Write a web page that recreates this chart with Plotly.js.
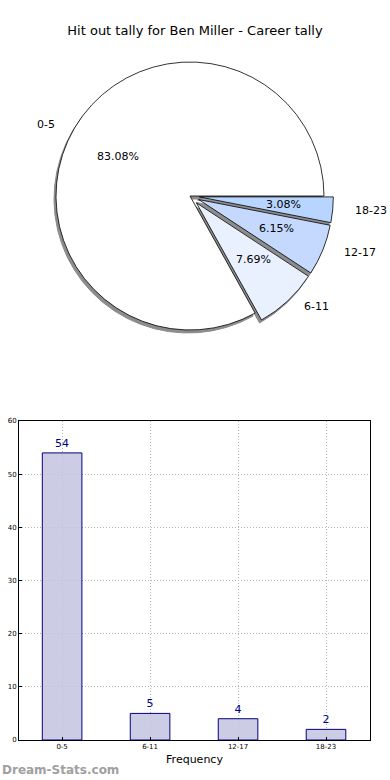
<!DOCTYPE html>
<html>
<head>
<meta charset="utf-8">
<script src="https://cdn.plot.ly/plotly-3.0.1.min.js"></script>
<style>html,body{margin:0;padding:0;background:#fff;}#chart{width:390px;height:780px;}</style>
</head>
<body>
<div id="chart"></div>
<script>
const categories = ["0-5", "6-11", "12-17", "18-23"];
const counts = [54, 5, 4, 2];
const chartTitle = "Hit out tally for Ben Miller - Career tally";
const xTitle = "Frequency";
const watermark = "Dream-Stats.com";
const sliceColors = ["#ffffff", "#eaf1fe", "#c5d9fe", "#b8d5ff"];
const pulls = [0, 0.07, 0.07, 0.07];

const W = 390, H = 780;
const font = "DejaVu Sans, sans-serif";

// pie geometry (pixels)
const cx = 190, cy = 196, r = 134;
const maxPull = Math.max.apply(null, pulls);
const half = r * (1 + maxPull);
const pieX = [(cx - half) / W, (cx + half) / W];
const pieY = [1 - (cy + half) / H, 1 - (cy - half) / H];

// matplotlib draws counterclockwise from 3 o'clock; plotly clockwise with reversed order gives the same
const rev = a => a.slice().reverse();
const pieCommon = {
  type: "pie",
  labels: rev(categories),
  values: rev(counts),
  sort: false,
  direction: "clockwise",
  rotation: 90,
  pull: rev(pulls),
  showlegend: false,
  hoverinfo: "skip",
  textinfo: "none"
};
const sdx = -2 / W, sdy = -3 / H;
const shadow = Object.assign({}, pieCommon, {
  domain: {x: [pieX[0] + sdx, pieX[1] + sdx], y: [pieY[0] + sdy, pieY[1] + sdy]},
  marker: {colors: categories.map(() => "#8c8c8c"), line: {color: "#8c8c8c", width: 1}}
});
const slices = Object.assign({}, pieCommon, {
  domain: {x: pieX, y: pieY},
  marker: {colors: rev(sliceColors), line: {color: "#000000", width: 0.8}}
});

// text positions computed from the data (matplotlib: pct at 0.6 r, label at 1.1 r)
const total = counts.reduce((a, b) => a + b, 0);
const rx = 140, ry = 129;
const annotations = [];
let cum = 0;
counts.forEach((v, i) => {
  const f = v / total;
  const th = 2 * Math.PI * (cum + f / 2);
  cum += f;
  const c = Math.cos(th), s = Math.sin(th);
  const px = (k) => cx + (pulls[i] + k) * rx * c;
  const py = (k) => cy - (pulls[i] + k) * ry * s;
  annotations.push({
    text: (f * 100).toFixed(2) + "%", xref: "paper", yref: "paper",
    x: px(0.6) / W, y: 1 - py(0.6) / H, xanchor: "center", yanchor: "middle",
    showarrow: false, font: {family: font, size: 11, color: "#000"}
  });
  annotations.push({
    text: categories[i], xref: "paper", yref: "paper",
    x: px(1.1) / W, y: 1 - py(1.1) / H, xanchor: c >= 0 ? "left" : "right", yanchor: "middle",
    showarrow: false, font: {family: font, size: 11, color: "#000"}
  });
});
annotations.push({
  text: "<b>" + watermark + "</b>", xref: "paper", yref: "paper",
  x: 0, y: 1 - 770 / H, xanchor: "left", yanchor: "middle",
  showarrow: false, font: {family: font, size: 12, color: "#a0a0a0"}
});

const bars = {
  type: "bar",
  x: categories,
  y: counts,
  xaxis: "x",
  yaxis: "y",
  width: 0.45,
  marker: {color: "rgba(195,195,225,0.85)", line: {color: "#000080", width: 1}},
  text: counts.map(String),
  textposition: "outside",
  cliponaxis: false,
  textfont: {family: font, size: 11, color: "#00008b"},
  hoverinfo: "skip",
  showlegend: false
};

const axisCommon = {
  showgrid: true, gridcolor: "#b4b4b4", griddash: "1px,2px", gridwidth: 1,
  showline: true, linecolor: "#000", linewidth: 1, mirror: true,
  ticks: "inside", ticklen: 3, tickcolor: "#000",
  tickfont: {family: font, size: 7, color: "#000"},
  zeroline: false, fixedrange: true
};

const layout = {
  width: W, height: H,
  margin: {l: 0, r: 0, t: 0, b: 0},
  paper_bgcolor: "#fff", plot_bgcolor: "rgba(0,0,0,0)",
  font: {family: font, color: "#000"},
  title: {text: chartTitle, font: {family: font, size: 13, color: "#000"}, x: 0.5, xanchor: "center", y: 1 - 30 / H, yanchor: "middle"},
  xaxis: Object.assign({}, axisCommon, {
    domain: [19 / W, 370 / W],
    range: [-0.49, 3.5],
    type: "category",
    title: {text: xTitle, font: {family: font, size: 11, color: "#000"}, standoff: 4}
  }),
  yaxis: Object.assign({}, axisCommon, {
    domain: [1 - 740 / H, 1 - 421 / H],
    range: [0, 60],
    dtick: 10
  }),
  annotations: annotations
};

Plotly.newPlot("chart", [shadow, slices, bars], layout, {displayModeBar: false, staticPlot: true});
</script>
</body>
</html>
